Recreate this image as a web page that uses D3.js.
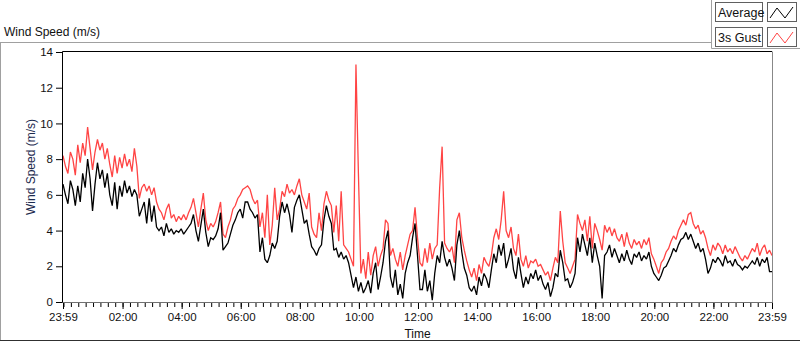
<!DOCTYPE html>
<html>
<head>
<meta charset="utf-8">
<script src="https://cdn.jsdelivr.net/npm/d3@7"></script>
<style>
  html, body { margin: 0; padding: 0; background: #fff; }
  svg { display: block; }
  text { font-family: "Liberation Sans", Arial, sans-serif; }
</style>
</head>
<body>
<svg id="chart" width="800" height="342"></svg>
<script>
// ---- data (5-minute samples from 23:59 to 23:59, minutes relative to 00:00) ----
const startMinute = -1;
const stepMinutes = 5;

const gust = [
  8.2, 7.6, 7.2, 8.4, 8.0, 7.1, 8.8, 7.8, 8.9, 8.2, 9.8, 8.6, 7.4, 8.4, 9.1, 8.5, 8.9, 8.0, 8.6, 7.7, 7.0, 8.2, 7.2, 8.1, 7.5, 8.3, 7.6, 8.0, 7.3, 8.6, 7.6,
  5.8, 6.4, 6.6, 6.2, 6.5, 6.0, 6.4, 5.6, 5.2,
  5.0, 4.6, 5.2, 5.5, 4.7, 4.9, 4.5, 4.8, 4.6, 4.9, 4.6, 5.0, 5.3,
  5.8, 5.0, 4.2, 5.2, 6.1, 4.6, 4.0, 4.4, 4.2, 4.5, 5.0, 5.6, 3.8, 3.6, 4.2, 4.6, 5.2, 5.4, 5.8, 6.0, 6.3, 6.4,
  6.5, 6.3, 5.8, 5.5, 5.7, 4.2, 5.0, 3.6, 6.0, 3.2, 4.3, 6.4, 4.6, 5.2, 6.2, 5.9, 6.6, 6.1, 6.3, 6.0, 6.5, 6.9, 6.0, 5.6, 5.2,
  6.1, 4.2, 3.8, 3.6, 5.0, 4.0, 5.5, 6.2, 5.7, 5.4, 3.9, 5.4, 3.4, 6.2, 3.2, 3.0, 2.8, 2.4, 2.0, 13.3, 7.2, 1.6, 2.4, 1.3,
  2.8, 1.5, 2.6, 3.1, 2.0, 2.6, 3.0, 4.6, 4.4, 2.6, 3.0, 2.4, 2.0, 2.8, 1.8, 2.6, 3.2, 3.8, 4.0, 5.3, 3.6, 2.2, 2.0, 3.0,
  2.2, 3.3, 2.4, 3.0, 3.2, 6.4, 8.7, 3.3, 3.0, 2.8, 3.1, 2.2, 4.6, 5.0, 3.6, 2.9, 2.3, 1.8, 1.4, 1.9, 1.2, 2.1, 1.6, 2.5, 2.2,
  2.0, 2.6, 3.6, 4.1, 3.5, 4.6, 6.2, 4.0, 3.6, 4.2, 3.0, 2.6, 3.8, 2.4, 2.0, 2.6, 1.9, 2.3, 2.2, 2.4, 2.0, 2.1, 1.8, 1.5, 1.7,
  1.2, 1.9, 2.5, 2.2, 5.1, 3.4, 2.2, 1.9, 1.6, 2.0, 2.4, 4.9, 4.4, 4.0, 4.6, 3.4, 4.8, 3.0, 4.4, 4.0, 3.5, 2.9, 4.3,
  3.9, 4.2, 3.7, 4.1, 3.6, 3.4, 3.8, 3.1, 3.9, 3.3, 3.0, 3.5, 3.2, 3.4, 3.0, 3.5, 3.2, 3.6, 2.7, 2.4, 2.0, 1.6, 2.2, 2.4, 2.8,
  3.0, 3.4, 3.7, 3.5, 4.0, 4.3, 4.6, 4.3, 4.9, 5.0, 4.4, 4.1, 4.3, 3.8, 4.0, 3.6, 3.0, 2.6, 3.2, 2.9, 3.3, 3.1, 2.7, 3.2, 2.8,
  3.0, 2.7, 3.1, 2.8, 2.5, 2.3, 2.6, 2.4, 2.7, 3.0, 2.8, 3.3, 2.6, 3.0, 3.2, 2.7, 2.9, 2.6
];

const average = [
  6.6, 6.0, 5.5, 6.8, 6.3, 5.4, 6.5, 5.6, 7.2, 6.4, 8.0, 6.9, 5.1, 6.6, 7.8, 6.9, 7.4, 6.4, 7.2, 6.0, 5.4, 6.7, 5.2, 6.5, 5.9, 6.8, 6.1, 6.5, 5.9, 6.3, 6.0,
  4.8, 5.2, 5.6, 4.4, 5.8, 4.5, 5.4, 4.2, 4.0,
  4.2, 3.7, 4.4, 3.9, 4.1, 3.8, 4.0, 3.9, 4.1, 3.8, 4.0, 4.2, 4.4,
  4.9, 4.0, 3.4, 4.3, 5.2, 3.9, 3.1, 3.6, 3.5, 3.7, 4.1, 5.0, 2.9, 3.1, 3.3, 3.8, 4.3, 4.6, 5.0, 5.2, 4.7, 5.6,
  5.6, 5.2, 5.0, 4.7, 4.9, 2.8, 3.6, 2.4, 2.2, 2.6, 3.3, 3.0, 3.4, 4.8, 5.6, 5.0, 5.5, 4.9, 3.9, 5.3, 5.7, 6.0, 5.2, 4.4, 4.6,
  3.8, 3.1, 2.9, 2.6, 3.0, 3.2, 4.6, 5.4, 4.8, 4.4, 2.9, 3.0, 2.5, 2.8, 2.4, 2.6, 2.2, 1.5, 0.8, 1.4, 0.6, 1.1, 0.5, 0.8,
  1.2, 0.5, 1.6, 2.2, 0.7, 1.4, 2.2, 3.4, 4.0, 1.4, 0.8, 1.8, 0.4, 1.0, 0.2, 1.6, 2.2, 2.6, 3.6, 4.4, 2.6, 0.7, 0.7, 1.8,
  0.6, 1.2, 0.1, 1.6, 2.6, 2.2, 3.4, 2.5, 2.0, 2.4, 1.9, 1.2, 3.2, 4.0, 2.8, 1.9, 1.5, 0.8, 0.6, 0.9, 0.4, 1.4, 0.9, 1.6, 1.3,
  0.8, 1.8, 2.7, 2.2, 3.2, 2.6, 3.3, 1.9, 2.4, 3.0, 1.8, 1.3, 2.5, 1.6, 0.8, 1.4, 1.0, 1.6, 1.3, 1.8, 1.2, 1.5, 1.0, 0.7, 1.1,
  0.3, 0.8, 1.6, 1.4, 2.9, 2.2, 1.2, 1.3, 0.8, 1.1, 1.6, 3.6, 2.8, 3.8, 3.2, 2.6, 3.6, 2.2, 3.3, 2.6, 2.0, 0.2, 2.6,
  2.8, 3.2, 2.5, 3.0, 2.6, 2.2, 2.7, 2.3, 2.9, 2.4, 2.1, 2.7, 2.5, 2.8, 2.3, 2.6, 2.4, 2.8, 2.0, 1.6, 1.4, 1.2, 1.5, 1.9, 2.0,
  2.3, 2.6, 3.0, 2.8, 3.2, 3.5, 3.6, 3.9, 3.5, 3.8, 3.4, 3.0, 3.3, 2.8, 3.0, 2.4, 1.6, 1.9, 2.4, 2.2, 2.5, 2.3, 2.0, 2.6, 2.2,
  2.3, 2.0, 2.4, 2.1, 2.0, 1.8, 2.0, 1.9, 2.1, 2.3, 2.1, 2.5, 2.0, 2.4, 2.2, 2.5, 1.7, 1.7
];

const xMajorTicks = [-1, 120, 240, 360, 480, 600, 720, 840, 960, 1080, 1200, 1320, 1439];
const xMajorLabels = ["23:59", "02:00", "04:00", "06:00", "08:00", "10:00", "12:00", "14:00", "16:00", "18:00", "20:00", "22:00", "23:59"];
const yTicks = [0, 2, 4, 6, 8, 10, 12, 14];
const seriesNames = ["Average", "3s Gust"];
const seriesColors = ["#000000", "#ff4444"];

// ---- layout ----
const svg = d3.select("#chart");
const plot = { left: 63, right: 772, top: 52, bottom: 302 };

const x = d3.scaleLinear().domain([-1, 1439]).range([plot.left, plot.right]);
const y = d3.scaleLinear().domain([0, 14]).range([plot.bottom, plot.top]);

// outer panel frame
svg.append("line").attr("x1", 0).attr("x2", 711.5).attr("y1", 42.5).attr("y2", 42.5).attr("stroke", "#a0a0a0");
svg.append("line").attr("x1", 711.5).attr("x2", 711.5).attr("y1", 0).attr("y2", 48.5).attr("stroke", "#a0a0a0");
svg.append("line").attr("x1", 711.5).attr("x2", 800).attr("y1", 48.5).attr("y2", 48.5).attr("stroke", "#a0a0a0");
svg.append("line").attr("x1", 0.5).attr("x2", 0.5).attr("y1", 42.5).attr("y2", 341).attr("stroke", "#a0a0a0");
svg.append("line").attr("x1", 0).attr("x2", 800).attr("y1", 340.5).attr("y2", 340.5).attr("stroke", "#303030");

// chart title
svg.append("text").attr("x", 4).attr("y", 36).attr("font-size", 12).attr("fill", "#111").text("Wind Speed (m/s)");

// data lines
const times = gust.map((_, i) => startMinute + i * stepMinutes);
const line = d3.line().x((d, i) => x(times[i])).y(d => y(d));

const g = svg.append("g");
[gust, average].forEach((s, k) => {
  g.append("path").datum(s)
    .attr("d", line)
    .attr("fill", "none")
    .attr("stroke", k === 0 ? seriesColors[1] : seriesColors[0])
    .attr("stroke-width", 1.3)
    .attr("stroke-linejoin", "miter")
    .attr("stroke-miterlimit", 2);
});

// plot frame
svg.append("line").attr("x1", plot.left - 0.5).attr("x2", plot.right).attr("y1", plot.top - 0.5).attr("y2", plot.top - 0.5).attr("stroke", "#000");
svg.append("line").attr("x1", plot.left - 0.5).attr("x2", plot.left - 0.5).attr("y1", plot.top - 0.5).attr("y2", plot.bottom + 1).attr("stroke", "#000");
svg.append("line").attr("x1", plot.right + 0.5).attr("x2", plot.right + 0.5).attr("y1", plot.top - 0.5).attr("y2", plot.bottom + 1).attr("stroke", "#888");
svg.append("line").attr("x1", plot.left - 0.5).attr("x2", plot.right + 1).attr("y1", plot.bottom + 0.5).attr("y2", plot.bottom + 0.5).attr("stroke", "#707070");

// y axis
const yAxis = d3.axisLeft(y).tickValues(yTicks).tickSize(6).tickPadding(3).tickFormat(d3.format("d"));
const yg = svg.append("g").attr("transform", `translate(${plot.left - 1},0)`).call(yAxis);
yg.select(".domain").remove();
yg.selectAll("text").attr("font-size", 11.5).attr("fill", "#111").attr("font-family", "Liberation Sans, Arial, sans-serif");
yg.selectAll("line").attr("stroke", "#000");

// x axis minor ticks
const minor = d3.range(0, 1440, 15);
const xMinor = d3.axisBottom(x).tickValues(minor).tickSize(4).tickFormat("");
const xmg = svg.append("g").attr("transform", `translate(0,${plot.bottom + 1})`).call(xMinor);
xmg.select(".domain").remove();
xmg.selectAll("line").attr("stroke", "#000");

// x axis major ticks + labels
const xAxis = d3.axisBottom(x).tickValues(xMajorTicks).tickSize(6).tickPadding(4)
  .tickFormat((d, i) => xMajorLabels[i]);
const xg = svg.append("g").attr("transform", `translate(0,${plot.bottom + 1})`).call(xAxis);
xg.select(".domain").remove();
xg.selectAll("text").attr("font-size", 11.5).attr("fill", "#111").attr("font-family", "Liberation Sans, Arial, sans-serif");
xg.selectAll("line").attr("stroke", "#000");

// axis titles
svg.append("text").attr("x", (plot.left + plot.right) / 2).attr("y", 338)
  .attr("text-anchor", "middle").attr("font-size", 12).attr("fill", "#111").text("Time");
svg.append("text").attr("transform", "translate(35,167) rotate(-90)")
  .attr("text-anchor", "middle").attr("font-size", 12).attr("fill", "#1c2a4e").text("Wind Speed (m/s)");

// legend
const legendRows = [0, 1];
legendRows.forEach(k => {
  const top = 2 + k * 25;
  svg.append("rect").attr("x", 715.5).attr("y", top + 0.5).attr("width", 47).attr("height", 19)
    .attr("fill", "#fff").attr("stroke", "#606060");
  svg.append("text").attr("x", 718).attr("y", top + 15).attr("font-size", 12.5).attr("fill", "#111").text(seriesNames[k]);
  svg.append("rect").attr("x", 767.5).attr("y", top + 0.5).attr("width", 29).attr("height", 19)
    .attr("fill", "#fff").attr("stroke", "#606060");
  const pts = [[770, top + 16], [777, top + 6], [785, top + 16], [793, top + 5]];
  svg.append("path").attr("d", d3.line()(pts)).attr("fill", "none")
    .attr("stroke", seriesColors[k]).attr("stroke-width", 1);
});
</script>
</body>
</html>
